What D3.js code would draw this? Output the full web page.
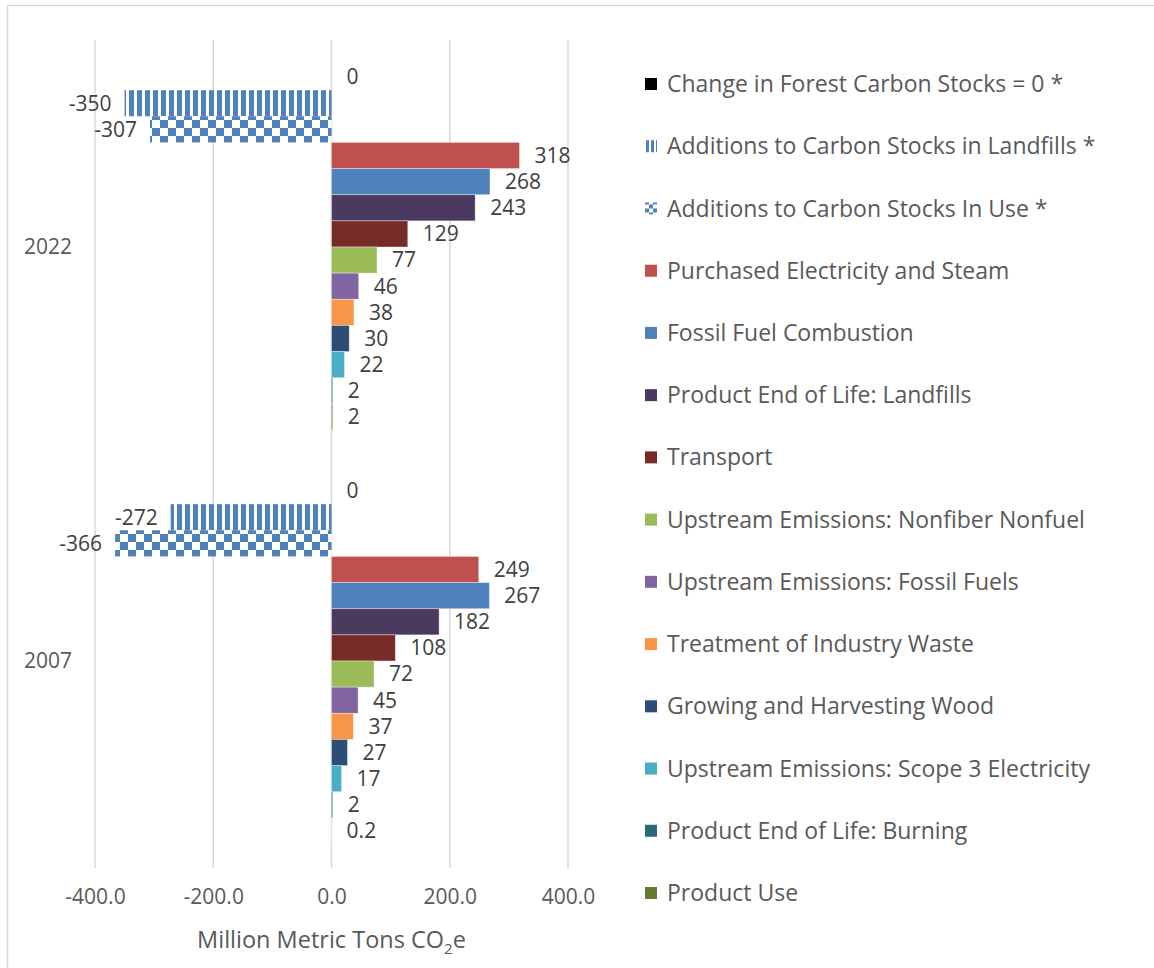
<!DOCTYPE html>
<html>
<head>
<meta charset="utf-8">
<script src="https://cdn.jsdelivr.net/npm/d3@7"></script>
<style>
  html, body { margin: 0; padding: 0; background: #fff; }
  svg { display: block; font-family: "Open Sans", Lato, sans-serif; }
</style>
</head>
<body>
<svg id="chart" width="1154" height="968"></svg>
<script>
// Emission sources and sinks (million metric tons CO2e), listed top to bottom
const seriesNames = [
  "Change in Forest Carbon Stocks = 0 *",
  "Additions to Carbon Stocks in Landfills *",
  "Additions to Carbon Stocks In Use *",
  "Purchased Electricity and Steam",
  "Fossil Fuel Combustion",
  "Product End of Life: Landfills",
  "Transport",
  "Upstream Emissions: Nonfiber Nonfuel",
  "Upstream Emissions: Fossil Fuels",
  "Treatment of Industry Waste",
  "Growing and Harvesting Wood",
  "Upstream Emissions: Scope 3 Electricity",
  "Product End of Life: Burning",
  "Product Use"
];
const years = ["2022", "2007"];
const values2022 = [0, -350, -307, 318, 268, 243, 129, 77, 46, 38, 30, 22, 2, 2];
const values2007 = [0, -272, -366, 249, 267, 182, 108, 72, 45, 37, 27, 17, 2, 0.2];
const xTicks = [-400, -200, 0, 200, 400];

const seriesFills = [
  "#000000", "url(#stripes)", "url(#checker)", "#c0504d", "#4f81bd",
  "#4b3a60", "#772c2a", "#9bbb59", "#8064a2", "#f79646",
  "#2c4d75", "#4bacc6", "#276a7c", "#647a30"
];
const legendFills = seriesFills.map(f =>
  f === "url(#stripes)" ? "url(#stripesKey)" : f === "url(#checker)" ? "url(#checkerKey)" : f);
const patternBlue = "#4f81bd";

const svg = d3.select("#chart");

// Outer chart frame
svg.append("rect")
  .attr("x", 7.5).attr("y", 5.5)
  .attr("width", 1160).attr("height", 980)
  .attr("fill", "none").attr("stroke", "#d9d9d9").attr("stroke-width", 1.5);

// Fill patterns for the carbon-stock series (bars and legend keys)
const defs = svg.append("defs");
function addStripes(id, period, stripe, offset) {
  const p = defs.append("pattern")
    .attr("id", id).attr("patternUnits", "userSpaceOnUse")
    .attr("width", period).attr("height", period);
  p.append("rect").attr("width", period).attr("height", period).attr("fill", "#fff");
  p.append("rect").attr("x", offset).attr("width", stripe).attr("height", period).attr("fill", patternBlue);
}
function addChecker(id, cell) {
  const p = defs.append("pattern")
    .attr("id", id).attr("patternUnits", "userSpaceOnUse")
    .attr("width", cell * 2).attr("height", cell * 2);
  p.append("rect").attr("width", cell * 2).attr("height", cell * 2).attr("fill", "#fff");
  p.append("rect").attr("x", 0).attr("y", 0).attr("width", cell).attr("height", cell).attr("fill", patternBlue);
  p.append("rect").attr("x", cell).attr("y", cell).attr("width", cell).attr("height", cell).attr("fill", patternBlue);
}
addStripes("stripes", 8, 5, 1);
addChecker("checker", 8);
addStripes("stripesKey", 5, 3, 1);
addChecker("checkerKey", 4);

// Scales
const x = d3.scaleLinear().domain([-400, 400]).range([95, 568]);
const yYear = d3.scaleBand().domain(years).range([40, 868]);
const ySeries = d3.scaleBand().domain(seriesNames)
  .range([24, yYear.bandwidth() - 24]);

// Vertical gridlines
svg.append("g").selectAll("line").data(xTicks).join("line")
  .attr("x1", d => x(d)).attr("x2", d => x(d))
  .attr("y1", 40).attr("y2", 868)
  .attr("stroke", "#d9d9d9").attr("stroke-width", 1.5);

// x axis tick labels (plain hyphen for negatives)
const fmt = d3.format(".1f");
const xAxis = d3.axisBottom(x).tickValues(xTicks)
  .tickFormat(d => fmt(d).replace("\u2212", "-")).tickSize(0).tickPadding(0);
const xAxisG = svg.append("g").attr("transform", "translate(0,897)").call(xAxis);
xAxisG.select(".domain").remove();
xAxisG.selectAll("text")
  .attr("font-family", "'Open Sans', sans-serif")
  .attr("font-size", 21).attr("fill", "#595959")
  .attr("y", 0).attr("dy", "0.35em");

// x axis title with subscript
const title = svg.append("text")
  .attr("x", x(0)).attr("y", 940)
  .attr("dy", "0.35em")
  .attr("text-anchor", "middle")
  .attr("font-size", 23.5).attr("fill", "#595959");
title.append("tspan").text("Million Metric Tons CO");
title.append("tspan").attr("font-size", 15).attr("dy", 6).text("2");
title.append("tspan").attr("dy", -6).text("e");

// Category labels
svg.append("g").selectAll("text").data(years).join("text")
  .attr("x", 48).attr("y", d => yYear(d) + yYear.bandwidth() / 2)
  .attr("dy", "0.35em").attr("text-anchor", "middle")
  .attr("font-size", 21).attr("fill", "#595959")
  .text(d => d);

// Bars and data labels per year
const yearValues = { "2022": values2022, "2007": values2007 };
years.forEach(year => {
  const rows = seriesNames.map((name, i) => ({ name, i, v: yearValues[year][i] }));
  const g = svg.append("g").attr("transform", `translate(0,${yYear(year)})`);

  g.selectAll("rect").data(rows).join("rect")
    .attr("x", d => x(Math.min(0, d.v)))
    .attr("y", d => ySeries(d.name))
    .attr("width", d => Math.abs(x(d.v) - x(0)))
    .attr("height", ySeries.bandwidth())
    .attr("fill", d => seriesFills[d.i])
    .attr("stroke", d => d.i < 3 ? "none" : "rgba(255,255,255,0.45)")
    .attr("stroke-width", 0.8);

  g.selectAll("text").data(rows).join("text")
    .attr("x", d => d.v < 0 ? x(d.v) - 13 : x(d.v) + 15)
    .attr("y", d => ySeries(d.name) + ySeries.bandwidth() / 2)
    .attr("dy", "0.35em")
    .attr("text-anchor", d => d.v < 0 ? "end" : "start")
    .attr("font-size", 21).attr("fill", "#404040")
    .text(d => String(d.v));
});

// Legend
const legend = svg.append("g");
const legendRows = legend.selectAll("g").data(seriesNames).join("g")
  .attr("transform", (d, i) => `translate(645,${84 + i * 62.23})`);
legendRows.append("rect")
  .attr("x", 0).attr("y", -6).attr("width", 12).attr("height", 12)
  .attr("fill", (d, i) => legendFills[i]);
legendRows.append("text")
  .attr("x", 22).attr("y", 0).attr("dy", "0.35em")
  .attr("font-size", 23).attr("fill", "#595959")
  .text(d => d);
</script>
</body>
</html>
